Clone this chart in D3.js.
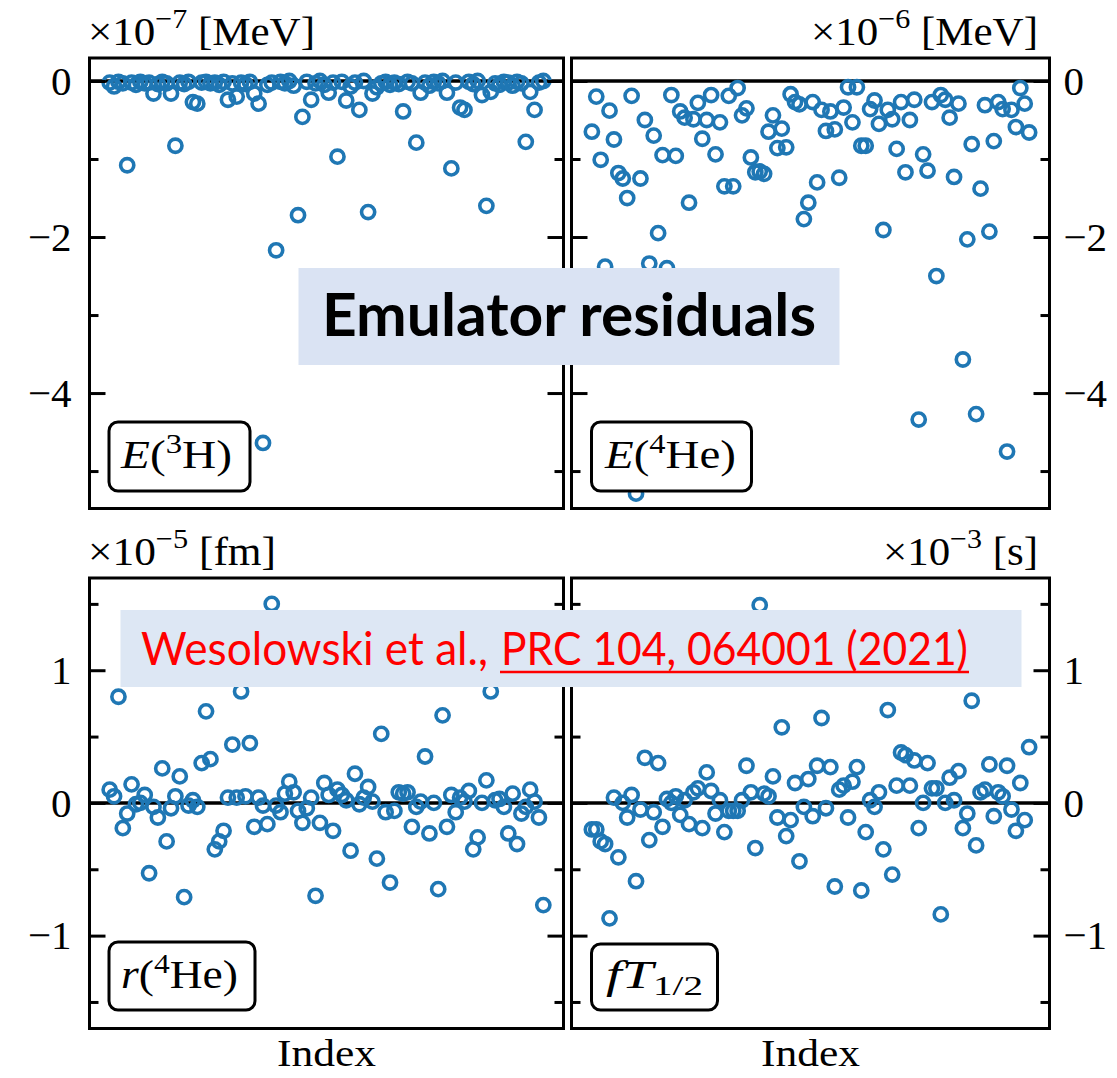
<!DOCTYPE html>
<html>
<head>
<meta charset="utf-8">
<script src="https://cdn.jsdelivr.net/npm/d3@7"></script>
<style>
  body { margin: 0; background: #fff; }
  svg text { font-family: 'Liberation Serif', serif; }
</style>
</head>
<body>
<svg id="chart"></svg>
<script>
// residuals per emulator sample (index = position in array)
const e3H = [
  -0.02, -0.07, -0.01, -0.03, -1.08, -0.02, -0.05, -0.01, -0.03, -0.02,
  -0.16, -0.04, -0.01, -0.03, -0.16, -0.83, -0.02, -0.04, -0.01, -0.27,
  -0.29, -0.02, -0.01, -0.03, -0.02, -0.05, -0.01, -0.24, -0.03, -0.2,
  -0.02, -0.04, -0.01, -0.16, -0.29, -4.64, -0.05, -0.02, -2.17, -0.01,
  -0.03, 0.0, -0.06, -1.72, -0.46, -0.01, -0.24, -0.03, 0.0, -0.05,
  -0.15, -0.02, -0.97, -0.01, -0.25, -0.07, -0.02, -0.37, 0.0, -1.68,
  -0.16, -0.08, -0.03, -0.01, -0.05, -0.02, -0.04, -0.39, -0.01, -0.03,
  -0.79, -0.15, -0.02, -0.06, -0.01, -0.03, 0.0, -0.15, -1.12, -0.02,
  -0.34, -0.37, -0.01, -0.04, 0.0, -0.18, -1.6, -0.14, -0.03, -0.05,
  -0.01, -0.02, -0.06, -0.01, -0.03, -0.78, -0.14, -0.37, -0.02, 0.0
];
const e4He = [
  -0.65, -0.2, -1.01, -2.38, -0.38, -0.75, -1.18, -1.25, -1.5, -0.19,
  -5.29, -1.25, -0.5, -2.34, -0.7, -1.95, -0.95, -2.4, -0.18, -0.96,
  -0.39, -0.47, -1.56, -0.49, -0.28, -0.74, -0.5, -0.18, -0.94, -0.53,
  -1.35, -0.19, -1.35, -0.09, -0.44, -0.35, -0.98, -1.17, -1.16, -1.19,
  -0.65, -0.44, -0.86, -0.61, -0.85, -0.17, -0.27, -0.3, -1.77, -1.56,
  -0.27, -1.3, -0.37, -0.64, -0.39, -0.62, -1.24, -0.34, -0.08, -0.53,
  -0.08, -0.83, -0.83, -0.36, -0.25, -0.55, -1.91, -0.37, -0.49, -0.87,
  -0.27, -1.17, -0.5, -0.24, -4.34, -0.94, -1.15, -0.27, -2.5, -0.18,
  -0.24, -0.47, -1.23, -0.29, -3.57, -2.03, -0.81, -4.27, -1.38, -0.31,
  -1.93, -0.77, -0.27, -0.36, -4.75, -0.37, -0.59, -0.09, -0.29, -0.66
];
const r4He = [
  0.1, 0.05, 0.8, -0.19, -0.08, 0.14, -0.01, 0.0, 0.06, -0.53,
  -0.03, -0.11, 0.26, -0.29, -0.04, 0.05, 0.2, -0.71, -0.02, 0.02,
  -0.03, 0.3, 0.69, 0.33, -0.35, -0.29, -0.21, 0.04, 0.44, 0.04,
  0.84, 0.05, 0.45, -0.18, 0.04, -0.02, -0.16, 1.5, -0.02, -0.07,
  0.07, 0.16, 0.08, -0.06, -0.15, -0.04, 0.04, -0.7, -0.15, 0.15,
  0.06, -0.21, 0.1, 0.06, 0.02, -0.36, 0.22, -0.01, 0.04, 0.12,
  0.01, -0.42, 0.52, -0.07, -0.6, -0.06, 0.08, 0.07, 0.08, -0.18,
  -0.03, 0.01, 0.35, -0.23, 0.0, -0.65, 0.66, -0.18, 0.06, -0.07,
  0.04, 0.01, 0.09, -0.35, -0.26, 0.0, 0.17, 0.84, 0.02, 0.03,
  -0.03, -0.23, 0.07, -0.31, -0.08, -0.03, 0.1, 0.01, -0.11, -0.77
];
const fT = [
  -0.2, -0.2, -0.29, -0.31, -0.87, 0.04, -0.41, 0.0, -0.11, 0.06,
  -0.59, -0.05, 0.34, -0.28, -0.07, 0.3, -0.18, 0.03, 0.0, 0.05,
  -0.09, 0.02, -0.16, 0.08, 0.11, -0.19, 0.23, 0.09, -0.08, 0.02,
  -0.22, -0.06, -0.06, -0.06, 0.02, 0.28, 0.08, -0.34, 1.49, 0.07,
  0.05, 0.2, -0.11, 0.57, -0.25, -0.13, 0.15, -0.44, -0.03, 0.18,
  -0.1, 0.28, 0.64, -0.04, 0.27, -0.63, 0.1, 0.13, -0.11, 0.16,
  0.27, -0.66, -0.22, 0.02, -0.03, 0.08, -0.35, 0.7, -0.54, 0.13,
  0.38, 0.36, 0.13, 0.32, -0.19, 0.0, 0.3, 0.11, 0.11, -0.84,
  0.0, 0.19, 0.02, 0.24, -0.19, -0.08, 0.77, -0.32, 0.08, 0.1,
  0.29, -0.1, 0.08, 0.05, 0.28, -0.05, -0.21, 0.15, -0.13, 0.42
];

const topMajor = [0, -2, -4];
const topMinor = [-1, -3, -5];
const bottomMajor = [1, 0, -1];
const bottomMinor = [1.5, 0.5, -0.5, -1.5];

const width = 1117;
const height = 1078;
const color = '#1f77b4';

const svg = d3.select('#chart').attr('width', width).attr('height', height);
svg.append('rect').attr('width', width).attr('height', height).attr('fill', '#fff');

// panel layout
const leftCol = { x0: 88, x1: 565 };
const rightCol = { x0: 570, x1: 1051 };
const topRow = { y0: 58, y1: 508.5, domain: [-5.48, 0.295] };
const bottomRow = { y0: 578, y1: 1028.5, domain: [-1.7, 1.695] };

const panels = [
  { values: e3H, col: leftCol, row: topRow, side: 'left', major: topMajor, minor: topMinor,
    exp: '−7', unit: 'MeV', ul: 227, label: [['E', 'i'], ['('], ['3', 'sup'], ['H)']], box: [109, 422, 141, 69], tx: 121, ty: 468, tl: 111 },
  { values: e4He, col: rightCol, row: topRow, side: 'right', major: topMajor, minor: topMinor,
    exp: '−6', unit: 'MeV', ul: 227, label: [['E', 'i'], ['('], ['4', 'sup'], ['He)']], box: [591.5, 422, 160, 69], tx: 605, ty: 468, tl: 131 },
  { values: r4He, col: leftCol, row: bottomRow, side: 'left', major: bottomMajor, minor: bottomMinor,
    exp: '−5', unit: 'fm', ul: 188, label: [['r', 'i'], ['('], ['4', 'sup'], ['He)']], box: [109, 942, 146, 68], tx: 121, ty: 988, tl: 117 },
  { values: fT, col: rightCol, row: bottomRow, side: 'right', major: bottomMajor, minor: bottomMinor,
    exp: '−3', unit: 's', ul: 155, label: [['fT', 'i'], ['1/2', 'sub']], box: [591.5, 944, 126, 66], tx: 606, ty: 988, tl: 97 }
];

panels.forEach((p) => {
  const x = d3.scaleLinear().domain([-4.95, 103.95]).range([p.col.x0, p.col.x1]);
  const y = d3.scaleLinear().domain(p.row.domain).range([p.row.y1, p.row.y0]);
  const g = svg.append('g');

  // zero line
  g.append('line')
    .attr('x1', p.col.x0 + 1.5).attr('x2', p.col.x1 - 1.5)
    .attr('y1', y(0)).attr('y2', y(0))
    .attr('stroke', '#000').attr('stroke-width', 3.5);

  // points
  g.selectAll('circle')
    .data(p.values)
    .join('circle')
    .attr('cx', (d, i) => x(i))
    .attr('cy', (d) => y(d))
    .attr('r', 6.6)
    .attr('fill', 'none')
    .attr('stroke', color)
    .attr('stroke-width', 3.6);

  // ticks on both sides, pointing inward
  const sides = [
    { axis: d3.axisLeft, pos: p.col.x0 + 1.5, labels: p.side === 'left', pad: 18 },
    { axis: d3.axisRight, pos: p.col.x1 - 1.5, labels: p.side === 'right', pad: 14 }
  ];
  sides.forEach((s) => {
    const major = g.append('g')
      .attr('transform', `translate(${s.pos},0)`)
      .call(s.axis(y).tickValues(p.major).tickSize(-16).tickPadding(s.pad)
        .tickFormat(s.labels ? d3.format('') : () => ''));
    const minor = g.append('g')
      .attr('transform', `translate(${s.pos},0)`)
      .call(s.axis(y).tickValues(p.minor).tickSize(-9).tickFormat(() => ''));
    [major, minor].forEach((a) => {
      a.select('.domain').remove();
      a.selectAll('line').attr('stroke', '#000').attr('stroke-width', 3);
    });
    major.selectAll('text')
      .attr('fill', '#000')
      .style('font-family', "'Liberation Serif', serif")
      .style('font-size', '41px');
  });

  // frame
  g.append('rect')
    .attr('x', p.col.x0 + 1.5).attr('y', p.row.y0)
    .attr('width', p.col.x1 - p.col.x0 - 3).attr('height', p.row.y1 - p.row.y0)
    .attr('fill', 'none').attr('stroke', '#000').attr('stroke-width', 3);

  // offset / unit text
  const ut = g.append('text')
    .attr('x', p.side === 'left' ? p.col.x0 : 1038)
    .attr('y', p.row.y0 - 13)
    .attr('text-anchor', p.side === 'left' ? 'start' : 'end')
    .attr('textLength', p.ul).attr('lengthAdjust', 'spacingAndGlyphs')
    .style('font-size', '40px');
  ut.append('tspan').text('×10');
  ut.append('tspan').attr('dy', -17).style('font-size', '28px').text(p.exp);
  ut.append('tspan').attr('dy', 17).text(' [' + p.unit + ']');

  // label box
  g.append('rect')
    .attr('x', p.box[0]).attr('y', p.box[1])
    .attr('width', p.box[2]).attr('height', p.box[3])
    .attr('rx', 9)
    .attr('fill', '#fff').attr('stroke', '#000').attr('stroke-width', 3);
  const lt = g.append('text')
    .attr('x', p.tx).attr('y', p.ty)
    .attr('textLength', p.tl).attr('lengthAdjust', 'spacingAndGlyphs')
    .style('font-size', '39px');
  let shift = 0;
  p.label.forEach(([t, kind]) => {
    const ts = lt.append('tspan').text(t);
    let target = 0;
    if (kind === 'i') ts.style('font-style', 'italic');
    if (kind === 'sup') { target = -15; ts.style('font-size', '27px'); }
    if (kind === 'sub') { target = 7; ts.style('font-size', '27px'); }
    ts.attr('dy', target - shift);
    shift = target;
  });

  // x label
  if (p.row === bottomRow) {
    svg.append('text')
      .attr('x', (p.col.x0 + p.col.x1) / 2)
      .attr('y', 1066)
      .attr('text-anchor', 'middle')
      .attr('textLength', 99).attr('lengthAdjust', 'spacingAndGlyphs')
      .style('font-size', '37px')
      .text('Index');
  }
});

// overlays
svg.append('rect')
  .attr('x', 298.5).attr('y', 268).attr('width', 541).attr('height', 97)
  .attr('fill', '#dae3f3');
svg.append('text')
  .attr('x', 322).attr('y', 336)
  .attr('textLength', 494).attr('lengthAdjust', 'spacingAndGlyphs')
  .style('font-family', "Lato, 'Open Sans', sans-serif")
  .style('font-weight', 'bold')
  .style('font-size', '60px')
  .attr('fill', '#000')
  .text('Emulator residuals');

svg.append('rect')
  .attr('x', 120.5).attr('y', 610).attr('width', 901).attr('height', 77)
  .attr('fill', '#dde7f4');
svg.append('text')
  .attr('x', 141).attr('y', 665)
  .attr('textLength', 347).attr('lengthAdjust', 'spacingAndGlyphs')
  .style('font-family', "Lato, 'Open Sans', sans-serif")
  .style('font-size', '46px')
  .attr('fill', '#ff0000')
  .text('Wesolowski et al.,');
svg.append('text')
  .attr('x', 501).attr('y', 665)
  .attr('textLength', 467).attr('lengthAdjust', 'spacingAndGlyphs')
  .style('font-family', "Lato, 'Open Sans', sans-serif")
  .style('font-size', '46px')
  .attr('fill', '#ff0000')
  .text('PRC 104, 064001 (2021)');
svg.append('line')
  .attr('x1', 500).attr('x2', 969).attr('y1', 672).attr('y2', 672)
  .attr('stroke', '#ff0000').attr('stroke-width', 2.5);
</script>
</body>
</html>
